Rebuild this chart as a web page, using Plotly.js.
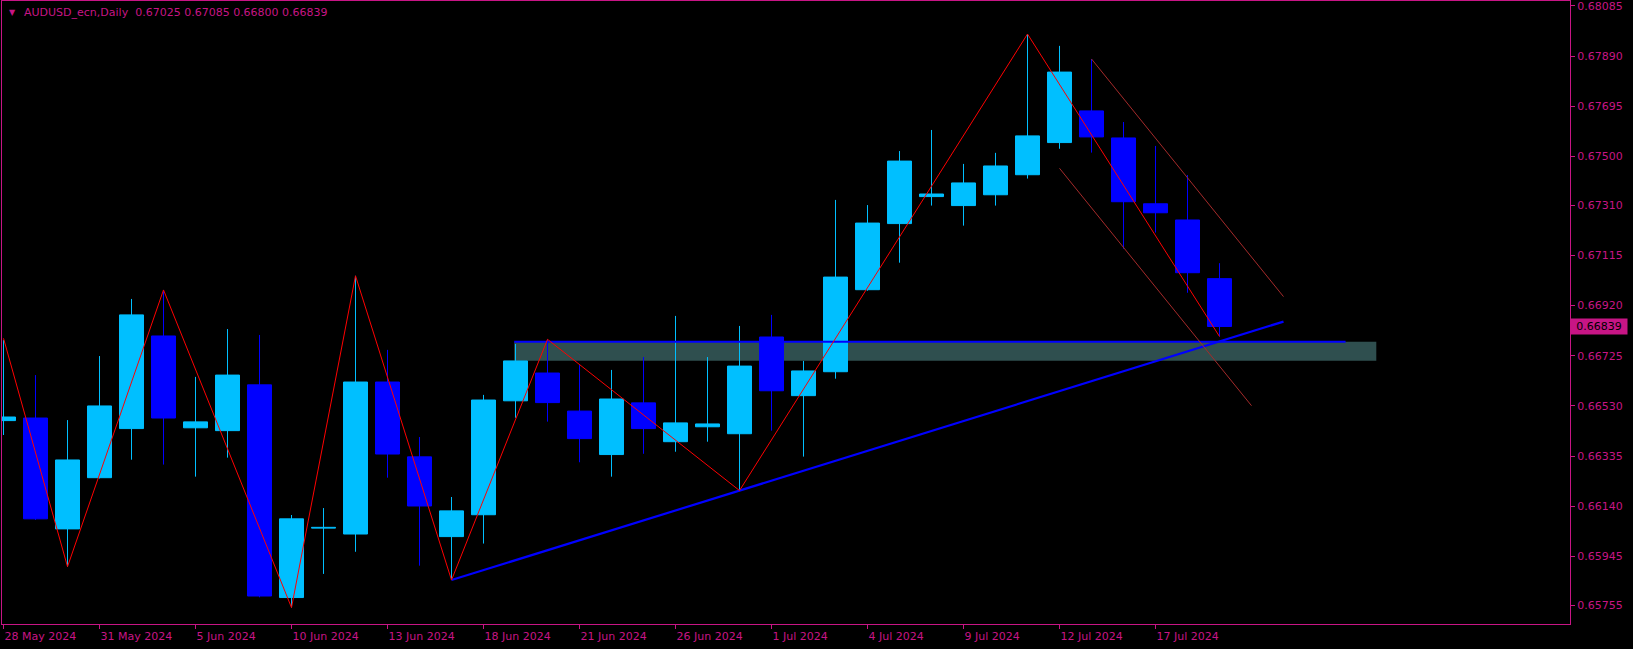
<!DOCTYPE html>
<html>
<head>
<meta charset="utf-8">
<script src="https://cdn.plot.ly/plotly-3.0.1.min.js"></script>
<style>
  html, body { margin: 0; padding: 0; background: #000; }
  #chart { width: 1633px; height: 649px; }
</style>
</head>
<body>
<div id="chart"></div>
<script>
// ---- data ----
const symbol = 'AUDUSD_ecn,Daily';
const dates = ['28 May 2024','29 May 2024','30 May 2024','31 May 2024','3 Jun 2024','4 Jun 2024','5 Jun 2024','6 Jun 2024','7 Jun 2024','10 Jun 2024','11 Jun 2024','12 Jun 2024','13 Jun 2024','14 Jun 2024','17 Jun 2024','18 Jun 2024','19 Jun 2024','20 Jun 2024','21 Jun 2024','24 Jun 2024','25 Jun 2024','26 Jun 2024','27 Jun 2024','28 Jun 2024','1 Jul 2024','2 Jul 2024','3 Jul 2024','4 Jul 2024','5 Jul 2024','8 Jul 2024','9 Jul 2024','10 Jul 2024','11 Jul 2024','12 Jul 2024','15 Jul 2024','16 Jul 2024','17 Jul 2024','18 Jul 2024','19 Jul 2024'];
const openP  = [0.66473,0.66483,0.66052,0.66251,0.66442,0.66802,0.66445,0.66434,0.66612,0.65785,0.66055,0.66032,0.66623,0.66332,0.66022,0.66107,0.66550,0.66658,0.66510,0.66341,0.66542,0.66391,0.66449,0.66422,0.66798,0.66570,0.66663,0.66982,0.67239,0.67344,0.67309,0.67351,0.67429,0.67554,0.67677,0.67572,0.67316,0.67253,0.67025];
const highP  = [0.66786,0.66650,0.66475,0.66724,0.66946,0.66981,0.66643,0.66829,0.66806,0.66106,0.66133,0.67036,0.66748,0.66409,0.66176,0.66573,0.66771,0.66789,0.66689,0.66670,0.66720,0.66880,0.66720,0.66841,0.66884,0.66705,0.67331,0.67311,0.67521,0.67603,0.67471,0.67514,0.67976,0.67930,0.67879,0.67634,0.67541,0.67428,0.67085];
const lowP   = [0.66417,0.66087,0.65905,0.66248,0.66321,0.66302,0.66255,0.66329,0.65786,0.65746,0.65877,0.65963,0.66251,0.65909,0.65853,0.65995,0.66484,0.66469,0.66311,0.66255,0.66344,0.66352,0.66391,0.66201,0.66434,0.66333,0.66636,0.66978,0.67087,0.67309,0.67231,0.67309,0.67414,0.67530,0.67515,0.67141,0.67204,0.66970,0.66800];
const closeP = [0.66487,0.66091,0.66320,0.66530,0.66884,0.66483,0.66468,0.66650,0.65791,0.66091,0.66058,0.66623,0.66343,0.66141,0.66122,0.66553,0.66705,0.66543,0.66403,0.66557,0.66442,0.66464,0.66460,0.66685,0.66589,0.66666,0.67031,0.67241,0.67482,0.67354,0.67397,0.67463,0.67580,0.67828,0.67576,0.67324,0.67281,0.67048,0.66839];

const priceTicks = [0.65755,0.65945,0.66140,0.66335,0.66530,0.66725,0.66920,0.67115,0.67310,0.67500,0.67695,0.67890,0.68085];

// zigzag (bar index, price)
const zzIdx   = [0, 2, 5, 9, 11, 14, 17, 23, 32, 38];
const zzPrice = [0.66793,0.65905,0.66981,0.65746,0.67036,0.65853,0.66789,0.66201,0.67976,0.66800];
// rising support trend line
const trendIdx   = [14, 40];
const trendPrice = [0.65853, 0.66858];
// horizontal level and zone
const levelIdx   = [15.96, 41.94];
const levelPrice = [0.66780, 0.66780];
const zoneIdx    = [15.96, 42.9];
const zonePrice  = [0.66706, 0.66780];
// descending channel lines
const chanUpIdx   = [34, 40];
const chanUpPrice = [0.67879, 0.66955];
const chanLoIdx   = [33, 39];
const chanLoPrice = [0.67454, 0.66531];

// ---- styles ----
const FG = '#C71585';
const BULL = '#00BFFF';
const BEAR = '#0000FF';
const FONT = 'DejaVu Sans';

const idx = dates.map((d, i) => i);
function split(cond) {
  const bx = [], by = [], bb = [], wx = [], wy = [];
  idx.forEach(i => {
    if (cond(i)) {
      bx.push(i);
      bb.push(Math.min(openP[i], closeP[i]));
      by.push(Math.abs(closeP[i] - openP[i]));
      wx.push(i, i, null);
      wy.push(lowP[i], highP[i], null);
    }
  });
  return {bx, by, bb, wx, wy};
}
const bull = split(i => closeP[i] >= openP[i]);
const bear = split(i => closeP[i] < openP[i]);

const traces = [];
[[bull, BULL], [bear, BEAR]].forEach(([s, c]) => {
  traces.push({type: 'scatter', mode: 'lines', x: s.wx, y: s.wy,
    line: {color: c, width: 1}, hoverinfo: 'skip', showlegend: false});
  traces.push({type: 'bar', x: s.bx, y: s.by, base: s.bb, width: 0.75,
    marker: {color: c, line: {color: c, width: 1}}, hoverinfo: 'skip', showlegend: false});
});
traces.push({type: 'scatter', mode: 'lines', x: levelIdx, y: levelPrice,
  line: {color: '#0000FF', width: 2}, showlegend: false, hoverinfo: 'skip'});
traces.push({type: 'scatter', mode: 'lines', x: trendIdx, y: trendPrice,
  line: {color: '#0000FF', width: 2.2}, showlegend: false, hoverinfo: 'skip'});
traces.push({type: 'scatter', mode: 'lines', x: chanUpIdx, y: chanUpPrice,
  line: {color: '#A52A2A', width: 1}, showlegend: false, hoverinfo: 'skip'});
traces.push({type: 'scatter', mode: 'lines', x: chanLoIdx, y: chanLoPrice,
  line: {color: '#A52A2A', width: 1}, showlegend: false, hoverinfo: 'skip'});
traces.push({type: 'scatter', mode: 'lines', x: zzIdx, y: zzPrice,
  line: {color: '#FF0000', width: 1}, showlegend: false, hoverinfo: 'skip'});

const tickIdx = idx.filter(i => i % 3 === 0);
const last = dates.length - 1;
const f5 = v => v.toFixed(5);
const titleText = symbol + '\u00a0\u00a0' + [openP[last], highP[last], lowP[last], closeP[last]].map(f5).join(' ');

const layout = {
  width: 1633, height: 649,
  paper_bgcolor: '#000', plot_bgcolor: '#000',
  margin: {l: 2, r: 63, t: 1, b: 25, autoexpand: false},
  barmode: 'overlay',
  showlegend: false,
  hovermode: false,
  font: {family: FONT, size: 11, color: FG},
  xaxis: {
    range: [-0.046875, 48.953125], showgrid: false, zeroline: false,
    showline: true, linecolor: FG, linewidth: 1, mirror: true,
    ticks: 'outside', ticklen: 4, tickcolor: FG, tickwidth: 1,
    tickmode: 'array', tickvals: tickIdx, ticktext: tickIdx.map(i => dates[i]),
    ticklabelposition: 'outside right', ticklabeloverflow: 'allow',
    ticklabelstandoff: 2,
    tickfont: {family: FONT, size: 11, color: FG}
  },
  yaxis: {
    side: 'right', range: [0.656822, 0.681044], showgrid: false, zeroline: false,
    showline: true, linecolor: FG, linewidth: 1, mirror: true,
    ticks: 'outside', ticklen: 4, tickcolor: FG, tickwidth: 1,
    tickmode: 'array', tickvals: priceTicks, ticktext: priceTicks.map(f5),
    ticklabeloverflow: 'allow',
    tickfont: {family: FONT, size: 11, color: FG}
  },
  shapes: [{
    type: 'rect', layer: 'below', xref: 'x', yref: 'y',
    x0: zoneIdx[0], x1: zoneIdx[1], y0: zonePrice[0], y1: zonePrice[1],
    fillcolor: '#2F4F4F', line: {width: 0}
  }],
  annotations: [
    {xref: 'paper', yref: 'paper', x: 0.0126, y: 0.981, xanchor: 'left', yanchor: 'middle',
     text: titleText, showarrow: false, font: {family: FONT, size: 11, color: FG}},
    {xref: 'paper', yref: 'paper', x: 0.0035, y: 0.981, xanchor: 'left', yanchor: 'middle',
     text: '\u25BC', showarrow: false, font: {family: FONT, size: 8, color: FG}},
    {xref: 'paper', yref: 'y', x: 1, y: closeP[last], xanchor: 'left', yanchor: 'middle',
     text: f5(closeP[last]), showarrow: false, bgcolor: FG, width: 54, height: 13,
     borderpad: 1, font: {family: FONT, size: 11, color: '#000'}}
  ]
};

Plotly.newPlot('chart', traces, layout, {staticPlot: true, displayModeBar: false});
</script>
</body>
</html>
